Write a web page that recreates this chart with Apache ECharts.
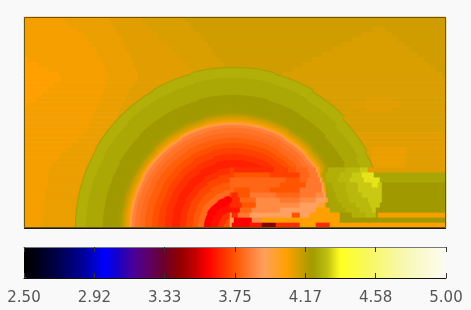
<!DOCTYPE html>
<html><head><meta charset="utf-8">
<style>html,body{margin:0;padding:0;background:#f9f9f9}#c{width:471px;height:310px}</style>
<script src="https://cdn.jsdelivr.net/npm/echarts@6/dist/echarts.min.js"></script>
</head><body><div id="c"></div>
<script>
const scaleMin = 2.5, scaleMax = 5;
const plotLeft = 24, cellPx = 2, columnCount = 211;
// colour scale: [value, colour]
const colorStops = [[2.5,'#000000'],[2.56,'#000010'],[2.71,'#000050'],[2.86,'#0000a0'],[2.98,'#0000ff'],[3.04,'#1000d0'],[3.146,'#4a009a'],[3.25,'#600060'],[3.32,'#6a0030'],[3.42,'#900000'],[3.51,'#c00000'],[3.59,'#ff0000'],[3.75,'#ff5500'],[3.92,'#ffa060'],[4.06,'#ffa000'],[4.21,'#a09a00'],[4.30,'#c0c010'],[4.37,'#ffff20'],[4.54,'#f8f860'],[4.75,'#f8f8b0'],[5,'#fcfcf4']];
// value levels used by the field rows
const levelCodes  = ['A','B','C','D','E','F','H','I','J','K','L','M','N','O','a','b','c','d','e','f','g','h','i','j','l','x'];
const levelValues = [4.06,4.075,4.09,4.105,4.12,4.135,4.17,4.19,4.21,4.235,4.26,4.28,4.31,4.34,3.59,3.63,3.67,3.71,3.75,3.79,3.83,3.87,3.92,3.98,3.4,3.28];
// ambient field, each row top to bottom: runs of <level><last x of the run>
const fieldRows = [
'B63 C109 D142 E185 F446',
'B70 C112 D147 E190 F446',
'B77 C115 D152 E194 F371 E386 F446',
'B84 C118 D157 E199 F361 E392 F446',
'B88 C121 D162 E203 F351 E398 F446',
'B92 C123 D167 E208 F341 E404 F446',
'B95 C126 D172 E212 F331 E411 F446',
'B98 C129 D177 E216 F321 E417 F446',
'A28 B101 C132 D182 E220 F311 E423 F446',
'A37 B103 C134 D187 E224 F301 E429 F446',
'A47 B105 C135 D192 E228 F291 E435 F446',
'A57 B107 C137 D192 E232 F281 E442 F446',
'A62 B108 C137 D190 E446',
'A54 B106 C133 D190 E446',
'A48 B104 C130 D190 E446',
'A41 B102 C127 D190 E446',
'A35 B100 C125 D190 E365 D392 E446',
'A28 B98 C122 D190 E358 D400 E446',
'B96 C120 D190 E365 D392 E446',
'B94 C117 D190 E446',
'B92 C190 E446',
'B90 C190 E446',
'B88 C190 E446',
'B83 C190 D446',
'B77 C190 D446',
'B72 C190 D446',
'B67 C190 D372 C405 D446',
'B62 C190 D372 C405 D446',
'B57 C190 D372 C405 D446',
'B52 C190 D372 C405 D446',
'B49 C229 d233 c274 d287 e296 f307 g316 i317 j318 A320 D322 F324 H326 I328 L345 M360 N368 D446',
'B48 C229 d233 e270 d300 f310 g317 i318 j319 A320 D322 H325 I326 L340 M352 N362 O374 K446',
'B47 C229 f285 e300 f308 g320 i321 A322 D323 H325 I326 L338 M350 N364 O379 K446',
'B47 C229 f280 e305 g322 i323 A324 D325 H326 K332 L345 M358 N372 O378 N381 J446',
'B46 C229 f233 e250 f270 e300 g322 i324 A325 D326 H327 K333 L345 M358 N381 J446',
'B46 C229 d232 c238 e250 g275 f300 g316 h323 i325 A326 H328 K336 L348 M362 N382 J446',
'B45 C229 a232 c240 f255 h280 g300 h315 i326 j327 A328 H330 K338 L350 M368 N382 J446',
'B44 C229 c242 e255 h300 i318 j323 A325 I330 K342 L355 M370 N380 J446',
'B44 C229 b240 f252 h280 i315 A330 K345 L360 M372 N376 J446',
'B43 C229 h232 c237 g250 i292 e300 i310 A340 J352 L365 M376 J378 B446',
'B42 C229 i233 a252 h262 A340 J446',
'B42 C229 i232 a250 b262 l275 c300 A315 c330 A446'
];
// blast-wave contours: one value per disc, outermost first
const discValues = [4.225,4.26,4.235,4.21,4.2,4.17,4.14,4.11,4.08,4.03,3.97,3.9,3.85,3.82,3.8,3.77,3.74,3.71,3.68,3.65,3.68,3.72,3.76,3.8,3.59,3.62,3.68,3.74,3.88];
// radius of each contour in 12 sectors of 15 degrees, from the left horizontal clockwise
const discRadii = [
[158,158,159,159,160,161,161,160,158,155,153,151],
[157,157,158,158,159,160,160,159,157,154,152,150],
[147,147,148,149,149,150,150,149,147,144,141,139],
[130,130,131,132,132,133,133,132,131,129,127,125],
[115,115,115,116,116,117,117,117,116,115,113,112],
[112,112,112,113,113,114,114,114,113,112,111,109],
[110,110,110,111,111,112,112,112,111,110,109,108],
[108,108,108,109,109,110,110,110,109,108,107,106],
[106,106,106,107,107,108,108,108,107,106,105,104],
[104,104,105,105,106,106,106,106,105,104,103,102],
[103,103,104,104,105,105,105,105,104,103,102,101],
[102,102,103,103,104,104,104,104,103,102,101,100],
[101,101,102,102,103,103,103,103,102,101,100,99],
[98,98,98,99,99,100,100,100,99,98,97,96],
[93,93,94,94,95,95,95,95,94,93,92,91],
[88,88,89,89,90,90,90,90,89,88,87,86],
[81,81,82,83,84,85,85,85,84,83,82,82],
[75,75,76,77,79,80,80,80,79,78,78,77],
[68,69,70,71,72,74,74,74,73,73,72,71],
[61,62,63,64,66,68,68,68,67,67,66,65],
[53,54,55,56,58,60,61,61,60,60,59,59],
[47,48,49,50,52,54,55,55,54,54,53,53],
[40,41,42,43,45,46,47,47,46,46,45,45],
[35,35,36,36,37,38,38,38,37,37,37,37],
[29,29,30,30,31,32,32,32,31,31,31,31],
[22,22,22,23,23,24,24,24,24,24,24,24],
[15,15,15,16,16,16,16,16,16,16,16,16],
[9,9,9,10,10,10,10,10,10,10,10,10],
[3,3,4,4,4,4,4,4,4,4,4,4]
];
const sectorDegrees = 15;
const tickCount = 6;

function hexRgb(h){return [1,3,5].map(i=>parseInt(h.substr(i,2),16));}
const palette = [];
for (let k = 0; k <= 250; k++) {
  const v = scaleMin + k * 0.01;
  let s = 0;
  while (s < colorStops.length - 2 && colorStops[s + 1][0] <= v) s++;
  const [v0, c0] = colorStops[s], [v1, c1] = colorStops[s + 1];
  const t = Math.min(1, (v - v0) / (v1 - v0));
  const a = hexRgb(c0), b = hexRgb(c1);
  palette.push('rgb(' + a.map((x, i) => Math.round(x + (b[i] - x) * t)).join(',') + ')');
}
const colorOf = v => palette[Math.round((v - scaleMin) / 0.01)];
const baseCells = [], detailCells = [];
fieldRows.forEach((row, r) => {
  const runs = row.split(' ').map(t => [levelValues[levelCodes.indexOf(t[0])], +t.slice(1)]);
  for (let c = 0; c < columnCount; c++) {
    const px = plotLeft + c * cellPx + 1;
    const run = runs.find(u => u[1] >= px) || runs[runs.length - 1];
    ((r >= 30 && px > 229) ? detailCells : baseCells).push([c, r, run[0]]);
  }
});
const discData = [];
discRadii.forEach((radii, d) => radii.forEach((rad, s) => {
  discData.push([s * sectorDegrees, (s + 1) * sectorDegrees, rad, discValues[d]]);
}));
const colIdx = Array.from({length: columnCount}, (_, i) => i);
const rowIdx = fieldRows.map((_, i) => i);
const barAxis = (pos, lineColor, showLabel) => ({
  gridIndex: 1, type: 'value', position: pos, min: scaleMin, max: scaleMax,
  interval: (scaleMax - scaleMin) / tickCount, z: 10,
  splitLine: {show: false},
  axisLine: {show: true, onZero: false, lineStyle: {color: lineColor, width: 1}},
  axisTick: {show: true, inside: true, length: 5, lineStyle: {color: '#333', width: 1}},
  axisLabel: {show: showLabel, margin: 13, color: '#555', fontFamily: 'DejaVu Sans', fontSize: 15,
    showMinLabel: true, showMaxLabel: true, hideOverlap: false, formatter: v => v.toFixed(2)}
});
const heat = (cells, z) => ({
  type: 'heatmap', xAxisIndex: 0, yAxisIndex: 0, data: cells, silent: true, z,
  progressive: 0, animation: false, itemStyle: {borderWidth: 0}, emphasis: {disabled: true}
});
const discSeries = {
  type: 'custom', coordinateSystem: 'polar', silent: true, z: 3, clip: false,
  progressive: 0, animation: false, data: discData,
  encode: {angle: 0, radius: 2},
  renderItem(params, api) {
    const rad = api.value(2), c = params.coordSys;
    const p0 = api.coord([rad, api.value(0)]), p1 = api.coord([rad, api.value(1)]);
    const start = Math.atan2(p0[1] - c.cy, p0[0] - c.cx);
    let end = Math.atan2(p1[1] - c.cy, p1[0] - c.cx);
    if (end < start) end += Math.PI * 2;
    const col = colorOf(api.value(3));
    return {
      type: 'sector', silent: true,
      shape: {cx: c.cx, cy: c.cy, r0: 0, r: Math.hypot(p0[0] - c.cx, p0[1] - c.cy), startAngle: start, endAngle: end, clockwise: true},
      style: {fill: col, stroke: col, lineWidth: 0.4}
    };
  }
};
const chart = echarts.init(document.getElementById('c'), null, {renderer: 'canvas'});
chart.setOption({
  animation: false, backgroundColor: '#f9f9f9',
  grid: [
    {left: 24, top: 17, width: 422, height: 211, show: false},
    {left: 24, top: 247, width: 422, height: 31, show: false}
  ],
  polar: {center: [233, 228], radius: [0, 170]},
  angleAxis: {type: 'value', min: 0, max: 360, startAngle: 180, clockwise: true, show: false},
  radiusAxis: {type: 'value', min: 0, max: 170, show: false},
  xAxis: [
    {gridIndex: 0, type: 'category', data: colIdx, show: false},
    barAxis('bottom', '#111', true),
    barAxis('top', '#777', false)
  ],
  yAxis: [
    {gridIndex: 0, type: 'category', data: rowIdx, inverse: true, show: false},
    {gridIndex: 1, type: 'value', show: false, min: 0, max: 1}
  ],
  visualMap: {
    type: 'continuous', dimension: 2, seriesIndex: [0, 2], min: scaleMin, max: scaleMax, orient: 'horizontal',
    left: 24, top: 247, itemWidth: 31, itemHeight: 422, padding: 0, text: null, showLabel: false,
    calculable: false, hoverLink: false, handleSize: 0, indicatorSize: 0,
    inRange: {color: palette}
  },
  series: [heat(baseCells, 1), discSeries, heat(detailCells, 5)],
  graphic: [
    {type: 'rect', silent: true, z: 100, shape: {x: 24.5, y: 17.5, width: 421, height: 210},
     style: {fill: 'none', stroke: '#6a5510', lineWidth: 1}},
    {type: 'line', silent: true, z: 101, shape: {x1: 24, y1: 228.5, x2: 446, y2: 228.5},
     style: {stroke: '#1a1a22', lineWidth: 1}}
  ]
});
</script></body></html>
